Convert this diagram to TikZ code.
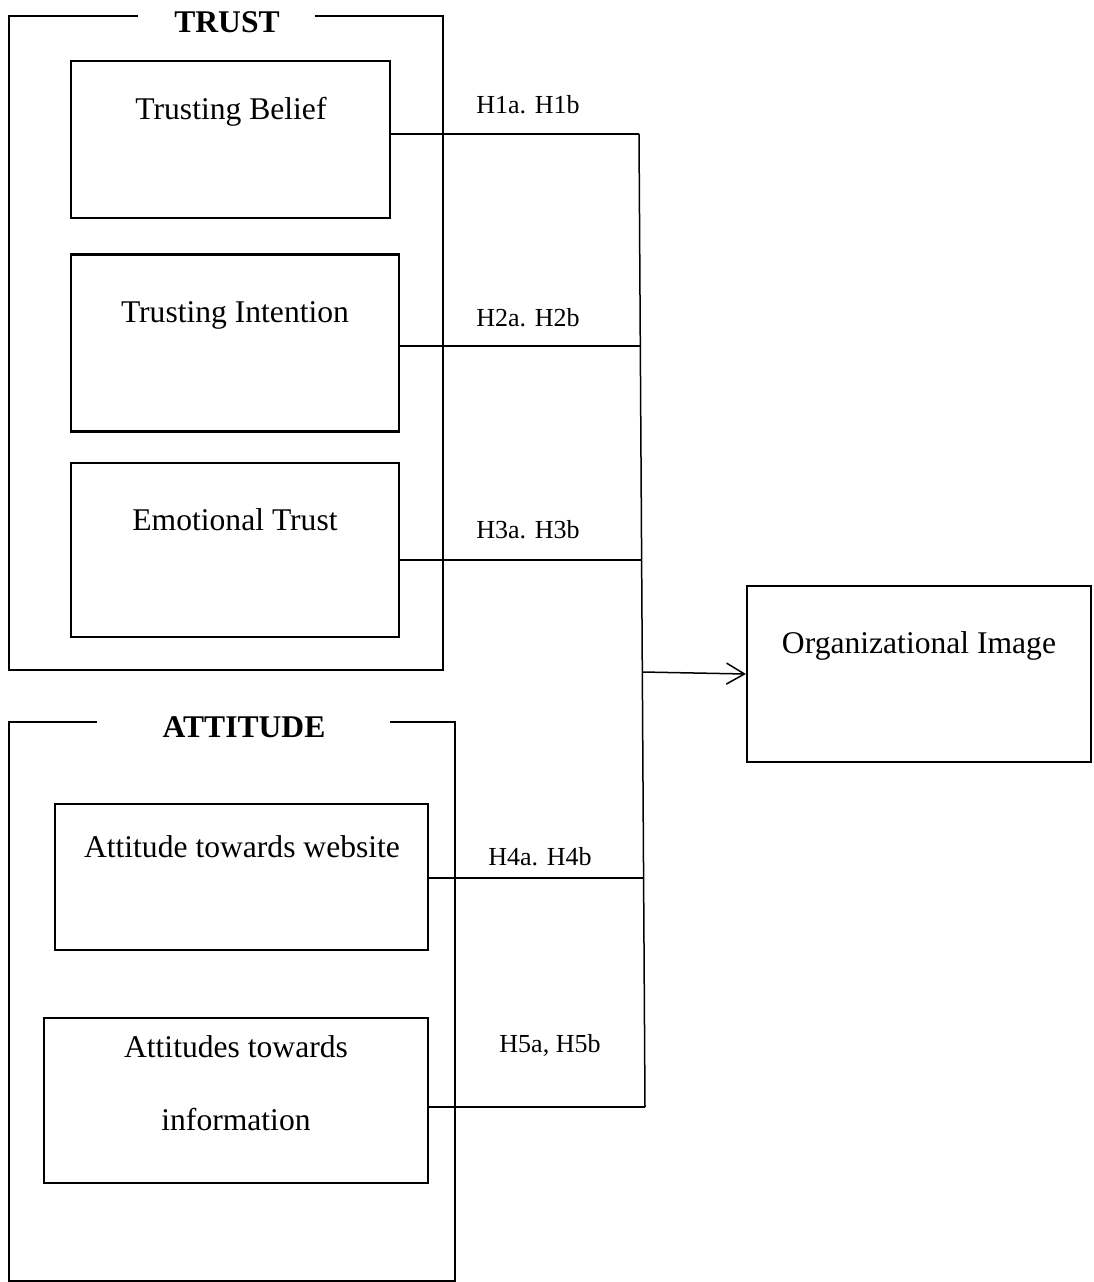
\documentclass[tikz,border=0pt]{standalone}
\usepackage{fontspec}
\setmainfont{Liberation Serif}
\usetikzlibrary{arrows.meta}
\begin{document}
\begin{tikzpicture}[x=1pt,y=-1pt,
  frame/.style={line width=2.2pt},
  box/.style={draw,line width=2.2pt,rectangle,inner sep=0pt},
  link/.style={line width=1.5pt},
  boxtext/.style={anchor=base,inner sep=0pt,font=\fontsize{31.6}{38}\selectfont},
  title/.style={anchor=base,inner sep=0pt,font=\fontsize{31.6}{38}\selectfont\bfseries},
  hyp/.style={anchor=base,inner sep=0pt,font=\fontsize{26}{31}\selectfont}]
\useasboundingbox (0,0) rectangle (1093,1282);

% TRUST group frame
\draw[frame] (138,16) -- (9,16) -- (9,670) -- (443,670) -- (443,16) -- (315,16);
\node[title] (trust) at (227,32) {TRUST};

% ATTITUDE group frame
\draw[frame] (97,722) -- (9,722) -- (9,1281) -- (455,1281) -- (455,722) -- (390,722);
\node[title] (attitude) at (244,737) {ATTITUDE};

% construct boxes
\node[box,minimum width=319pt,minimum height=157pt] (tb)  at (230.5,139.5) {};
\node[box,minimum width=328pt,minimum height=177pt] (ti)  at (235,343) {};
\node[box,minimum width=328pt,minimum height=174pt] (et)  at (235,550) {};
\node[box,minimum width=373pt,minimum height=146pt] (atw) at (241.5,877) {};
\node[box,minimum width=384pt,minimum height=165pt] (ati) at (236,1100.5) {};
\node[box,minimum width=344pt,minimum height=176pt] (oi)  at (919,674) {};

\node[boxtext] (tbt)  at (231,119) {Trusting Belief};
\node[boxtext] (tit)  at (235,322) {Trusting Intention};
\node[boxtext] (ett)  at (235,530) {Emotional Trust};
\node[boxtext] (atwt) at (242,857) {Attitude towards website};
\node[boxtext] (ati1) at (236,1057) {Attitudes towards};
\node[boxtext] (ati2) at (236,1130) {information};
\node[boxtext] (oit)  at (919,653) {Organizational Image};

% hypothesis labels
\node[hyp] (h1) at (528,113) {H1a. H1b};
\node[hyp] (h2) at (528,326) {H2a. H2b};
\node[hyp] (h3) at (528,538) {H3a. H3b};
\node[hyp] (h4) at (540,865) {H4a. H4b};
\node[hyp] (h5) at (550,1052) {H5a, H5b};

% collecting line
\coordinate (j1) at (639,134);
\coordinate (j2) at (640.3,346);
\coordinate (j3) at (641.6,560);
\coordinate (jo) at (642.3,672);
\coordinate (j4) at (643.6,878);
\coordinate (j5) at (645,1107);
\draw[link] (j1) -- (j5);

\draw[link] (tb.east |- j1) -- (j1);
\draw[link] (ti.east |- j2) -- (j2);
\draw[link] (et.east |- j3) -- (j3);
\draw[link] (atw.east |- j4) -- (j4);
\draw[link] (ati.east |- j5) -- (j5);

\draw[link,-{Straight Barb[length=18pt,width=21pt,line width=1.5pt]}] (jo) -- (oi.west);
\end{tikzpicture}
\end{document}
